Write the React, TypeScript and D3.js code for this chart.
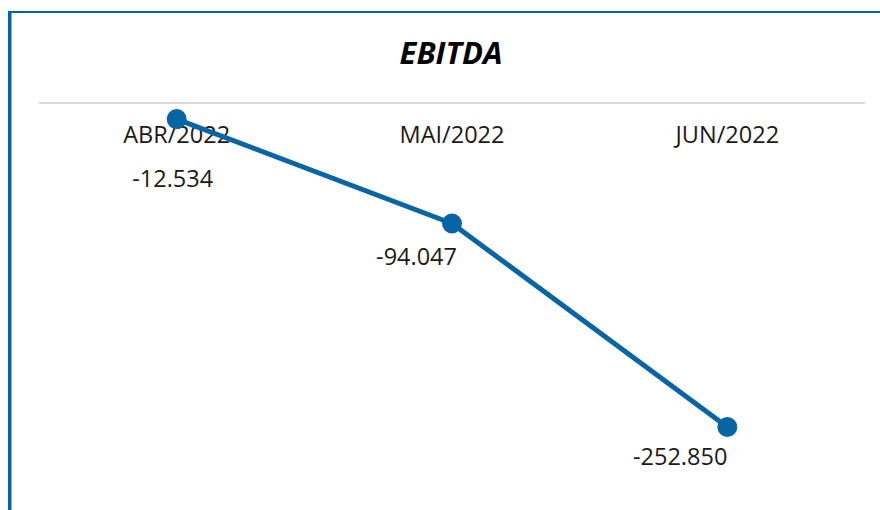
import React from "react";
import * as d3 from "d3";

const categories = ["ABR/2022", "MAI/2022", "JUN/2022"];
const ebitda = [-12534, -94047, -252850];
const yDomain = [-252850, 0];

// label placement styles (offsets relative to the point)
const labelPlacement = [
  { dx: -4, dy: 68, anchor: "middle" },
  { dx: 5, dy: 41, anchor: "end" },
  { dx: 0, dy: 38, anchor: "end" },
];

const W = 880;
const H = 510;
const BLUE = "#0865a5";
const FONT = "'Open Sans', 'DejaVu Sans', sans-serif";

const fmt = (v: number) => {
  const s = d3.format(",")(v);
  return s.replace(/,/g, ".").replace("−", "-");
};

export default function App() {
  const x = d3.scaleBand<string>().domain(categories).range([39, 865]);
  const y = d3.scaleLinear().domain(yDomain).range([427, 103]);
  const cx = (c: string) => (x(c) as number) + x.bandwidth() / 2;
  const line = d3
    .line<number>()
    .x((_, i) => cx(categories[i]))
    .y((d) => y(d));

  return (
    <svg
      width={W}
      height={H}
      style={{ position: "absolute", left: 0, top: 0, background: "#fff" }}
    >
      <rect x={0} y={0} width={W} height={H} fill="#fff" />
      <line x1={8} x2={W} y1={12} y2={12} stroke={BLUE} strokeWidth={2} />
      <line x1={9.75} x2={9.75} y1={11} y2={H} stroke={BLUE} strokeWidth={3.5} />
      <text
        x={451}
        y={63.5}
        textAnchor="middle"
        fontFamily={FONT}
        fontWeight="bold"
        fontStyle="italic"
        fontSize={31}
        fill="#000"
      >
        EBITDA
      </text>
      <line
        x1={39}
        x2={865}
        y1={y(0)}
        y2={y(0)}
        stroke="#d9d9d9"
        strokeWidth={2}
      />
      {categories.map((c) => (
        <text
          key={c}
          x={cx(c)}
          y={143}
          textAnchor="middle"
          fontFamily={FONT}
          fontSize={23.5}
          fill="#1a1a1a"
        >
          {c}
        </text>
      ))}
      <path
        d={line(ebitda) as string}
        fill="none"
        stroke={BLUE}
        strokeWidth={5}
        strokeLinejoin="round"
      />
      {ebitda.map((v, i) => (
        <circle key={i} cx={cx(categories[i])} cy={y(v)} r={10} fill={BLUE} />
      ))}
      {ebitda.map((v, i) => (
        <text
          key={"l" + i}
          x={cx(categories[i]) + labelPlacement[i].dx}
          y={y(v) + labelPlacement[i].dy}
          textAnchor={labelPlacement[i].anchor as any}
          fontFamily={FONT}
          fontSize={23.5}
          fill="#1a1a1a"
        >
          {fmt(v)}
        </text>
      ))}
    </svg>
  );
}
